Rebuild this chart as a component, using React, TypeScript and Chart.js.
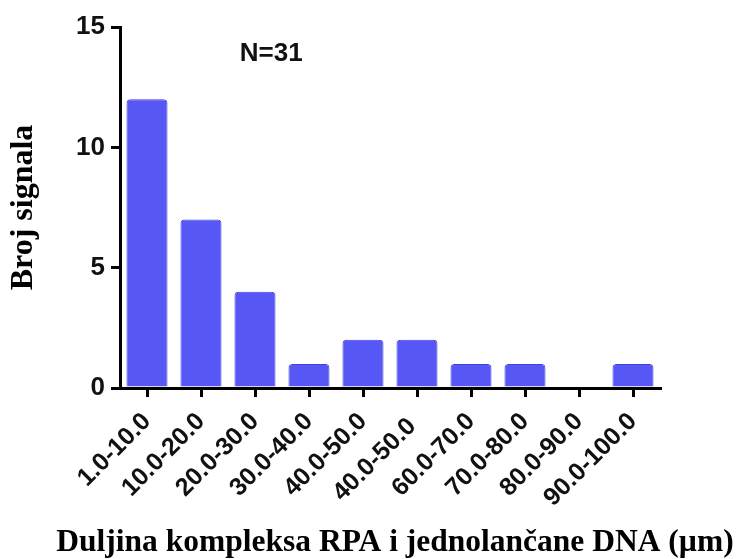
import React, { useEffect, useRef } from "react";
import { Chart, registerables } from "chart.js";

Chart.register(...registerables);

const categories = [
  "1.0-10.0",
  "10.0-20.0",
  "20.0-30.0",
  "30.0-40.0",
  "40.0-50.0",
  "40.0-50.0 ",
  "60.0-70.0",
  "70.0-80.0",
  "80.0-90.0",
  "90.0-100.0",
];
const counts = [12, 7, 4, 1, 2, 2, 1, 1, 0, 1];
const yTicks = [0, 5, 10, 15];
const annotationText = "N=31";
const xTitle = "Duljina kompleksa RPA i jednolančane DNA (µm)";
const yTitle = "Broj signala";

const SANS = "'Liberation Sans', Arial, Helvetica, sans-serif";
const SERIF = "'Liberation Serif', 'Times New Roman', Times, serif";

const textPlugin = {
  id: "extraText",
  afterDraw(chart: any) {
    const { ctx, chartArea, scales } = chart;
    ctx.save();
    // N=31 annotation
    const x = chartArea.left + (chartArea.right - chartArea.left) * 0.28;
    const y = scales.y.getPixelForValue(13.9);
    ctx.font = `bold 26px ${SANS}`;
    ctx.fillStyle = "#111";
    ctx.textAlign = "center";
    ctx.textBaseline = "middle";
    ctx.fillText(annotationText, x, y);
    // x axis title (drawn without width squeezing)
    ctx.font = `bold 31.5px ${SERIF}`;
    ctx.fillStyle = "#000";
    ctx.textAlign = "center";
    ctx.textBaseline = "alphabetic";
    const cx = (chartArea.left + chartArea.right) / 2 + 5;
    ctx.fillText(xTitle, cx, chart.height - 8);
    ctx.restore();
  },
};

export default function App() {
  const ref = useRef<HTMLCanvasElement | null>(null);

  useEffect(() => {
    if (!ref.current) return;
    const chart = new Chart(ref.current, {
      type: "bar",
      data: {
        labels: categories,
        datasets: [
          {
            data: counts,
            backgroundColor: "#5757f6",
            borderColor: "#4040e0",
            borderWidth: 1,
            borderRadius: 4,
            borderSkipped: "bottom",
            barPercentage: 0.76,
            categoryPercentage: 1,
          },
        ],
      },
      options: {
        responsive: false,
        animation: false,
        devicePixelRatio: 1,
        layout: { padding: { top: 27, right: 82, bottom: 0, left: 0 } },
        plugins: {
          legend: { display: false },
          tooltip: { enabled: false },
        },
        scales: {
          x: {
            offset: true,
            grid: {
              display: true,
              offset: false,
              drawOnChartArea: false,
              drawTicks: true,
              tickLength: 9,
              lineWidth: 3,
              color: "#000",
            },
            border: { display: true, color: "#000", width: 3 },
            ticks: {
              color: "#111",
              font: { family: SANS, size: 25, weight: "bold" },
              maxRotation: 45,
              minRotation: 45,
              padding: 10,
              autoSkip: false,
            },
            afterFit: (scale: any) => {
              scale.height = 171;
            },
          },
          y: {
            min: 0,
            max: 15,
            afterBuildTicks: (scale: any) => {
              scale.ticks = yTicks.map((v) => ({ value: v }));
            },
            grid: {
              display: true,
              drawOnChartArea: false,
              drawTicks: true,
              tickLength: 9,
              lineWidth: 3,
              color: "#000",
            },
            border: { display: true, color: "#000", width: 3 },
            ticks: {
              color: "#111",
              font: { family: SANS, size: 26, weight: "bold" },
              padding: 6,
            },
            title: {
              display: true,
              text: yTitle,
              color: "#000",
              font: { family: SERIF, size: 32, weight: "bold" },
              padding: { top: 5, bottom: 0 },
            },
            afterFit: (scale: any) => {
              scale.width = 120;
            },
          },
        },
      },
      plugins: [textPlugin],
    });
    return () => chart.destroy();
  }, []);

  return (
    <div style={{ position: "fixed", left: 0, top: 0, width: 742, height: 559, background: "#fff" }}>
      <canvas ref={ref} width={742} height={559} style={{ width: 742, height: 559, display: "block" }} />
    </div>
  );
}
